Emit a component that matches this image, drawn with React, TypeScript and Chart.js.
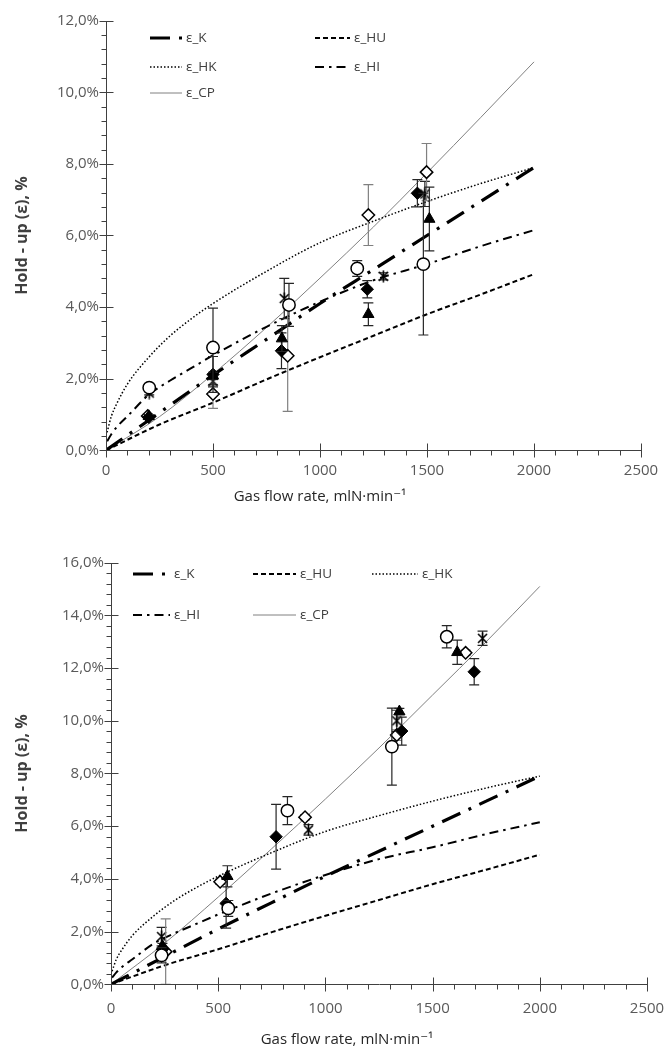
import React, { useEffect, useRef } from 'react';
import { Chart, registerables } from 'chart.js';

Chart.register(...registerables);

// ---- model curves (gas flow rate in mlN/min, hold-up in %) ----
const modelFlow = [0, 250, 500, 750, 1000, 1250, 1500, 1750, 2000];
const modelFlowFine = [5, 25, 50, 100, 200, 300, 400, 500, 750, 1000, 1250, 1500, 1750, 2000];
const epsK = [0, 1.05, 2.1, 3.1, 4.1, 5.05, 6.0, 6.95, 7.9];
const epsHU = [0, 0.72, 1.33, 1.98, 2.6, 3.2, 3.8, 4.35, 4.92];
const epsHK = [0.5, 0.95, 1.3, 1.85, 2.6, 3.2, 3.68, 4.1, 5.0, 5.8, 6.4, 6.95, 7.45, 7.9];
const epsHI = [0.25, 0.45, 0.65, 0.95, 1.55, 1.95, 2.3, 2.65, 3.45, 4.15, 4.75, 5.2, 5.7, 6.15];
const epsCPTop = [0, 0.94, 2.13, 3.43, 4.81, 6.24, 7.75, 9.29, 10.85];
const epsCPBottom = [0, 1.56, 3.31, 5.15, 7.03, 8.97, 10.98, 13.0, 15.1];

// ---- measurements, upper panel ----
const topCircleFlow = [202, 500, 855, 1174, 1483];
const topCircleHoldup = [1.75, 2.87, 4.06, 5.08, 5.2];
const topCircleErr = [0.08, 1.1, 0.6, 0.22, 1.98];

const topTriangleFlow = [200, 500, 822, 1226, 1511];
const topTriangleHoldup = [0.95, 2.08, 3.12, 3.8, 6.46];
const topTriangleErr = [0.05, 0.1, 0.36, 0.32, 0.89];

const topDiamondFlow = [200, 500, 820, 1221, 1455];
const topDiamondHoldup = [0.92, 2.12, 2.78, 4.5, 7.18];
const topDiamondErr = [0.05, 0.5, 0.5, 0.24, 0.38];

const topOpenDiamondFlow = [195, 500, 849, 1226, 1498];
const topOpenDiamondHoldup = [0.96, 1.57, 2.64, 6.57, 7.77];
const topOpenDiamondErr = [0.05, 0.4, 1.55, 0.85, 0.8];

const topStarFlow = [202, 500, 833, 1296, 1490];
const topStarHoldup = [1.6, 1.93, 4.24, 4.86, 7.16];
const topStarErr = [0.05, 0.1, 0.56, 0.1, 0.35];

// ---- measurements, lower panel ----
const botCircleFlow = [236, 547, 823, 1310, 1566];
const botCircleHoldup = [1.1, 2.88, 6.59, 9.02, 13.19];
const botCircleErr = [0.29, 0.3, 0.53, 1.46, 0.42];

const botTriangleFlow = [240, 543, 1345, 1615];
const botTriangleHoldup = [1.45, 4.1, 10.35, 12.6];
const botTriangleErr = [0.1, 0.4, 0.12, 0.46];

const botDiamondFlow = [240, 537, 770, 1356, 1694];
const botDiamondHoldup = [1.33, 3.07, 5.6, 9.61, 11.86];
const botDiamondErr = [0.1, 0.94, 1.23, 0.53, 0.5];

const botOpenDiamondFlow = [255, 509, 905, 1333, 1654];
const botOpenDiamondHoldup = [1.24, 3.89, 6.34, 9.46, 12.58];
const botOpenDiamondErr = [1.24, 0.1, 0.1, 0.2, 0.1];

const botStarFlow = [236, 921, 1333, 1733];
const botStarHoldup = [1.81, 5.86, 10.0, 13.13];
const botStarErr = [0.35, 0.2, 0.4, 0.27];

const FONT = '"Open Sans", "DejaVu Sans", sans-serif';

type LineKey = 'K' | 'HU' | 'HK' | 'HI' | 'CP';
const lineStyles: Record<LineKey, { width: number; dash: number[]; color: string; label: string }> = {
  K: { width: 3.2, dash: [20, 9, 3, 9], color: '#000', label: 'ε_K' },
  HU: { width: 2, dash: [5, 3], color: '#000', label: 'ε_HU' },
  HK: { width: 1.5, dash: [1.5, 2], color: '#000', label: 'ε_HK' },
  HI: { width: 2, dash: [9, 5, 2.5, 5], color: '#000', label: 'ε_HI' },
  CP: { width: 1, dash: [], color: '#808080', label: 'ε_CP' },
};

type Marker = 'circle' | 'triangle' | 'diamond' | 'openDiamond' | 'star';
interface MeasSeries { flow: number[]; holdup: number[]; err: number[]; marker: Marker }

interface PanelSpec {
  top: number;
  height: number;
  yAxisW: number;
  padTop: number;
  padRight: number;
  plotBottom: number;
  xLabelPad: number;
  yMax: number;
  yMinor: number;
  cp: number[];
  series: MeasSeries[];
  legend: { key: LineKey; x: number; y: number; len: number }[];
  yTitle: { x: number; y: number };
  xTitle: { x: number; y: number };
}

const panels: PanelSpec[] = [
  {
    top: 0,
    height: 525,
    yAxisW: 106,
    padTop: 20.7,
    padRight: 29,
    plotBottom: 450.3,
    xLabelPad: 11,
    yMax: 12,
    yMinor: 0.4,
    cp: epsCPTop,
    series: [
      { flow: topCircleFlow, holdup: topCircleHoldup, err: topCircleErr, marker: 'circle' },
      { flow: topTriangleFlow, holdup: topTriangleHoldup, err: topTriangleErr, marker: 'triangle' },
      { flow: topDiamondFlow, holdup: topDiamondHoldup, err: topDiamondErr, marker: 'diamond' },
      { flow: topOpenDiamondFlow, holdup: topOpenDiamondHoldup, err: topOpenDiamondErr, marker: 'openDiamond' },
      { flow: topStarFlow, holdup: topStarHoldup, err: topStarErr, marker: 'star' },
    ],
    legend: [
      { key: 'K', x: 150, y: 38, len: 32 },
      { key: 'HU', x: 315, y: 38, len: 35 },
      { key: 'HK', x: 150, y: 67, len: 32 },
      { key: 'HI', x: 315, y: 67, len: 35 },
      { key: 'CP', x: 150, y: 93, len: 32 },
    ],
    yTitle: { x: 22, y: 235.5 },
    xTitle: { x: 320, y: 497 },
  },
  {
    top: 530,
    height: 529,
    yAxisW: 111,
    padTop: 32.7,
    padRight: 23,
    plotBottom: 454.3,
    xLabelPad: 15,
    yMax: 16,
    yMinor: 0.4,
    cp: epsCPBottom,
    series: [
      { flow: botCircleFlow, holdup: botCircleHoldup, err: botCircleErr, marker: 'circle' },
      { flow: botTriangleFlow, holdup: botTriangleHoldup, err: botTriangleErr, marker: 'triangle' },
      { flow: botDiamondFlow, holdup: botDiamondHoldup, err: botDiamondErr, marker: 'diamond' },
      { flow: botOpenDiamondFlow, holdup: botOpenDiamondHoldup, err: botOpenDiamondErr, marker: 'openDiamond' },
      { flow: botStarFlow, holdup: botStarHoldup, err: botStarErr, marker: 'star' },
    ],
    legend: [
      { key: 'K', x: 133, y: 44, len: 37 },
      { key: 'HU', x: 253, y: 44, len: 43 },
      { key: 'HK', x: 372, y: 44, len: 46 },
      { key: 'HI', x: 133, y: 85, len: 37 },
      { key: 'CP', x: 253, y: 85, len: 43 },
    ],
    yTitle: { x: 22, y: 243.5 },
    xTitle: { x: 347, y: 510 },
  },
];

function makeStarImage(): HTMLCanvasElement {
  const c = document.createElement('canvas');
  c.width = 13;
  c.height = 13;
  const g = c.getContext('2d')!;
  g.strokeStyle = '#000';
  g.lineWidth = 1.6;
  g.beginPath();
  g.moveTo(2, 2);
  g.lineTo(11, 11);
  g.moveTo(11, 2);
  g.lineTo(2, 11);
  g.moveTo(6.5, 0.5);
  g.lineTo(6.5, 12.5);
  g.stroke();
  return c;
}

const toPoints = (xs: number[], ys: number[]) => xs.map((x, i) => ({ x, y: ys[i] }));

function lineDataset(key: LineKey, xs: number[], ys: number[]) {
  const s = lineStyles[key];
  return {
    label: s.label,
    data: toPoints(xs, ys),
    showLine: true,
    pointRadius: 0,
    borderColor: s.color,
    borderWidth: s.width,
    borderDash: s.dash,
    borderCapStyle: 'butt',
    fill: false,
    cubicInterpolationMode: 'monotone',
    order: 10,
  };
}

function markerDataset(s: MeasSeries, star: HTMLCanvasElement) {
  const base: any = {
    data: toPoints(s.flow, s.holdup),
    errors: s.err,
    errorColor: s.marker === 'openDiamond' ? '#808080' : '#262626',
    showLine: false,
    order: 1,
    borderColor: '#000',
    borderWidth: 1.5,
  };
  switch (s.marker) {
    case 'circle':
      return { ...base, pointStyle: 'circle', pointRadius: 6.2, backgroundColor: '#fff' };
    case 'triangle':
      return { ...base, pointStyle: 'triangle', pointRadius: 6.5, backgroundColor: '#000', borderWidth: 1 };
    case 'diamond':
      return { ...base, pointStyle: 'rectRot', pointRadius: 6.2, backgroundColor: '#000', borderWidth: 1 };
    case 'openDiamond':
      return { ...base, pointStyle: 'rectRot', pointRadius: 6.2, backgroundColor: '#fff' };
    default:
      return { ...base, pointStyle: star, pointRadius: 6, backgroundColor: '#000' };
  }
}

// Vertical error bars with caps, drawn right before each marker dataset
const errorBarPlugin = {
  id: 'errorBars',
  beforeDatasetDraw(chart: any, args: any) {
    const ds = chart.data.datasets[args.index];
    if (!ds.errors) return;
    const { ctx, scales } = chart;
    const xs = scales.x;
    const ys = scales.y;
    ctx.save();
    ctx.strokeStyle = ds.errorColor;
    ctx.lineWidth = 1.2;
    ds.data.forEach((p: any, j: number) => {
      const e = ds.errors[j];
      if (!e) return;
      const px = xs.getPixelForValue(p.x);
      const t = ys.getPixelForValue(p.y + e);
      const b = ys.getPixelForValue(Math.max(0, p.y - e));
      ctx.beginPath();
      ctx.moveTo(px, t);
      ctx.lineTo(px, b);
      ctx.moveTo(px - 5, t);
      ctx.lineTo(px + 5, t);
      ctx.moveTo(px - 5, b);
      ctx.lineTo(px + 5, b);
      ctx.stroke();
    });
    ctx.restore();
  },
};

// Axis lines with crossing major ticks and outward minor ticks
const axesPlugin = {
  id: 'axesTicks',
  afterDatasetsDraw(chart: any) {
    const { ctx, scales } = chart;
    const xs = scales.x;
    const ys = scales.y;
    const o = chart.options.plugins.axesTicks;
    const ax = Math.round(xs.getPixelForValue(0)) + 0.5;
    const ay = Math.round(ys.getPixelForValue(0)) + 0.5;
    ctx.save();
    ctx.strokeStyle = '#404040';
    ctx.lineWidth = 1;
    ctx.beginPath();
    ctx.moveTo(ax, Math.round(ys.getPixelForValue(o.yMax)));
    ctx.lineTo(ax, ay);
    ctx.lineTo(Math.round(xs.getPixelForValue(2500)) + 0.5, ay);
    for (let v = 0; v <= o.yMax + 1e-6; v += o.yMinor) {
      const py = Math.round(ys.getPixelForValue(v)) + 0.5;
      const major = Math.abs(v / 2 - Math.round(v / 2)) < 1e-6;
      ctx.moveTo(ax - (major ? 7 : 5), py);
      ctx.lineTo(major ? ax + 7 : ax, py);
    }
    for (let v = 0; v <= 2500; v += 100) {
      const px = Math.round(xs.getPixelForValue(v)) + 0.5;
      const major = v % 500 === 0;
      ctx.moveTo(px, major ? ay - 7 : ay);
      ctx.lineTo(px, ay + (major ? 7 : 5));
    }
    ctx.stroke();
    ctx.restore();
  },
};

// In-plot legend and axis titles
const annotationsPlugin = {
  id: 'panelText',
  afterDraw(chart: any) {
    const { ctx } = chart;
    const o = chart.options.plugins.panelText;
    ctx.save();
    o.legend.forEach((it: any) => {
      const s = lineStyles[it.key as LineKey];
      ctx.strokeStyle = s.color;
      ctx.lineWidth = s.width;
      ctx.setLineDash(s.dash);
      ctx.lineCap = 'butt';
      ctx.beginPath();
      ctx.moveTo(it.x, it.y);
      ctx.lineTo(it.x + it.len, it.y);
      ctx.stroke();
      ctx.setLineDash([]);
      ctx.fillStyle = '#404040';
      ctx.font = `13.5px ${FONT}`;
      ctx.textAlign = 'left';
      ctx.textBaseline = 'middle';
      ctx.fillText(s.label, it.x + it.len + 4, it.y);
    });
    ctx.fillStyle = '#404040';
    ctx.font = `bold 16px ${FONT}`;
    ctx.textAlign = 'center';
    ctx.textBaseline = 'middle';
    ctx.save();
    ctx.translate(o.yTitle.x, o.yTitle.y);
    ctx.rotate(-Math.PI / 2);
    ctx.fillText('Hold - up (ε), %', 0, 0);
    ctx.restore();
    ctx.fillStyle = '#262626';
    ctx.font = `15px ${FONT}`;
    ctx.fillText('Gas flow rate, mlN·min⁻¹', o.xTitle.x, o.xTitle.y);
    ctx.restore();
  },
};

function Panel({ spec }: { spec: PanelSpec }) {
  const ref = useRef<HTMLCanvasElement>(null);
  useEffect(() => {
    if (!ref.current) return;
    const star = makeStarImage();
    const datasets: any[] = [
      ...spec.series.map((s) => markerDataset(s, star)),
      lineDataset('K', modelFlow, epsK),
      lineDataset('HU', modelFlow, epsHU),
      lineDataset('HK', modelFlowFine, epsHK),
      lineDataset('HI', modelFlowFine, epsHI),
      lineDataset('CP', modelFlow, spec.cp),
    ];
    const xAxisH = spec.height - spec.plotBottom;
    const chart = new Chart(ref.current, {
      type: 'scatter',
      data: { datasets },
      plugins: [errorBarPlugin, axesPlugin, annotationsPlugin],
      options: {
        responsive: false,
        animation: false,
        devicePixelRatio: 1,
        layout: { padding: { top: spec.padTop, right: spec.padRight, left: 0, bottom: 0 } },
        plugins: {
          legend: { display: false },
          tooltip: { enabled: false },
          axesTicks: { yMax: spec.yMax, yMinor: spec.yMinor },
          panelText: { legend: spec.legend, yTitle: spec.yTitle, xTitle: spec.xTitle },
        } as any,
        scales: {
          x: {
            type: 'linear',
            min: 0,
            max: 2500,
            afterFit: (s: any) => {
              s.height = xAxisH;
              s.paddingLeft = 0;
              s.paddingRight = 0;
            },
            grid: { display: false, drawTicks: false },
            border: { display: false },
            ticks: {
              stepSize: 500,
              autoSkip: false,
              maxRotation: 0,
              padding: spec.xLabelPad,
              color: '#595959',
              font: { family: FONT, size: 15 },
              callback: (v: any) => String(v),
            },
          },
          y: {
            type: 'linear',
            min: 0,
            max: spec.yMax,
            afterFit: (s: any) => {
              s.width = spec.yAxisW;
              s.paddingTop = 0;
              s.paddingBottom = 0;
            },
            grid: { display: false, drawTicks: false },
            border: { display: false },
            ticks: {
              stepSize: 2,
              autoSkip: false,
              padding: 7,
              color: '#595959',
              font: { family: FONT, size: 15 },
              callback: (v: any) => Number(v).toFixed(1).replace('.', ',') + '%',
            },
          },
        },
      } as any,
    });
    return () => chart.destroy();
  }, [spec]);
  return (
    <canvas
      ref={ref}
      width={670}
      height={spec.height}
      style={{ position: 'absolute', left: 0, top: spec.top, width: 670, height: spec.height }}
    />
  );
}

export default function App() {
  return (
    <div style={{ position: 'absolute', left: 0, top: 0, width: 670, height: 1059, background: '#fff' }}>
      {panels.map((p, i) => (
        <Panel key={i} spec={p} />
      ))}
    </div>
  );
}
